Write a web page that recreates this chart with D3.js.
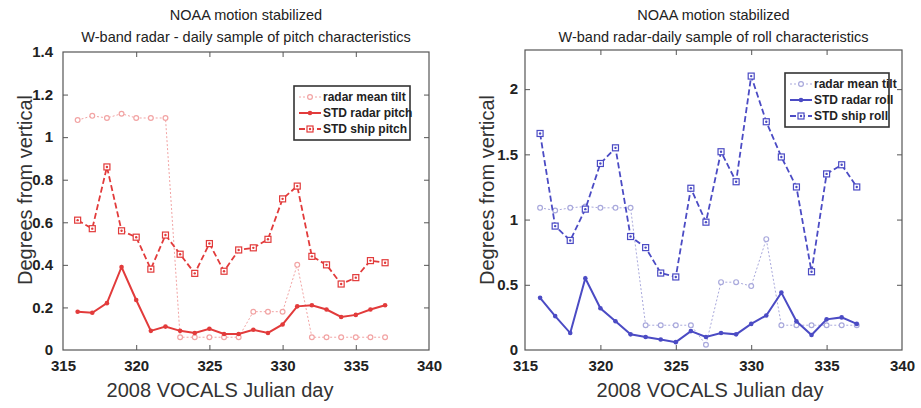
<!DOCTYPE html>
<html>
<head>
<meta charset="utf-8">
<script src="https://cdn.jsdelivr.net/npm/d3@7"></script>
<style>
  body { margin: 0; background: #fff; }
  svg { font-family: "Liberation Sans", Arial, sans-serif; }
</style>
</head>
<body>
<script>
// Julian days sampled
const days = [316, 317, 318, 319, 320, 321, 322, 323, 324, 325, 326,
              327, 328, 329, 330, 331, 332, 333, 334, 335, 336, 337];

// Pitch panel series
const pitchTilt  = [1.08, 1.10, 1.09, 1.11, 1.09, 1.09, 1.09, 0.06, 0.06, 0.06, 0.06,
                    0.06, 0.18, 0.18, 0.18, 0.40, 0.06, 0.06, 0.06, 0.06, 0.06, 0.06];
const pitchRadar = [0.18, 0.175, 0.22, 0.39, 0.235, 0.09, 0.11, 0.09, 0.08, 0.10, 0.075,
                    0.075, 0.095, 0.08, 0.12, 0.205, 0.21, 0.19, 0.155, 0.165, 0.19, 0.21];
const pitchShip  = [0.61, 0.57, 0.86, 0.56, 0.53, 0.38, 0.54, 0.45, 0.36, 0.50, 0.37,
                    0.47, 0.48, 0.52, 0.71, 0.77, 0.44, 0.40, 0.31, 0.34, 0.42, 0.41];

// Roll panel series
const rollTilt  = [1.09, 1.07, 1.09, 1.10, 1.09, 1.09, 1.09, 0.19, 0.19, 0.19, 0.19,
                   0.04, 0.52, 0.52, 0.49, 0.85, 0.19, 0.19, 0.19, 0.19, 0.19, 0.19];
const rollRadar = [0.40, 0.26, 0.13, 0.55, 0.32, 0.22, 0.12, 0.10, 0.08, 0.06, 0.145,
                   0.10, 0.13, 0.12, 0.20, 0.265, 0.44, 0.22, 0.115, 0.235, 0.25, 0.20];
const rollShip  = [1.66, 0.95, 0.84, 1.08, 1.43, 1.55, 0.87, 0.785, 0.59, 0.56, 1.24,
                   0.98, 1.52, 1.29, 2.10, 1.75, 1.48, 1.25, 0.60, 1.35, 1.42, 1.25];

// Tick values
const xTicks = [315, 320, 325, 330, 335, 340];
const pitchTicks = [0, 0.2, 0.4, 0.6, 0.8, 1, 1.2, 1.4];
const rollTicks = [0, 0.5, 1, 1.5, 2];

// Labels
const pitchTitle = ["NOAA motion stabilized", "W-band radar - daily sample of pitch characteristics"];
const rollTitle  = ["NOAA motion stabilized", "W-band radar-daily sample of roll characteristics"];
const pitchNames = ["radar mean tilt", "STD radar pitch", "STD ship pitch"];
const rollNames  = ["radar mean tilt", "STD radar roll", "STD ship roll"];
const xLabel = "2008 VOCALS Julian day";
const yLabel = "Degrees from vertical";

const W = 921, H = 408;
const svg = d3.select("body").append("svg").attr("width", W).attr("height", H);

function drawPanel(p) {
    const g = svg.append("g");
    const x = d3.scaleLinear().domain([315, 340]).range([p.left, p.right]);
    const y = d3.scaleLinear().domain([0, p.ymax]).range([p.bottom, p.top]);

    // frame
    g.append("rect")
        .attr("x", p.left).attr("y", p.top)
        .attr("width", p.right - p.left).attr("height", p.bottom - p.top)
        .attr("fill", "none").attr("stroke", "#555").attr("stroke-width", 1.2);

    // axes: ticks inside, on all four sides
    const styleAxis = (sel, labels) => {
        sel.select(".domain").remove();
        sel.selectAll(".tick line").attr("stroke", "#555");
        sel.selectAll(".tick text")
            .attr("fill", "#222")
            .style("font-size", "15px").style("font-weight", "bold");
        if (!labels) sel.selectAll(".tick text").remove();
    };
    g.append("g").attr("transform", `translate(0,${p.bottom})`)
        .call(d3.axisBottom(x).tickValues(xTicks).tickSizeInner(-5).tickSizeOuter(0).tickPadding(10).tickFormat(d3.format("d")))
        .call(s => styleAxis(s, true));
    g.append("g").attr("transform", `translate(0,${p.top})`)
        .call(d3.axisTop(x).tickValues(xTicks).tickSizeInner(-5).tickSizeOuter(0))
        .call(s => styleAxis(s, false));
    g.append("g").attr("transform", `translate(${p.left},0)`)
        .call(d3.axisLeft(y).tickValues(p.yTicks).tickSizeInner(-5).tickSizeOuter(0).tickPadding(p.ypad).tickFormat(d3.format("~g")))
        .call(s => styleAxis(s, true));
    g.append("g").attr("transform", `translate(${p.right},0)`)
        .call(d3.axisRight(y).tickValues(p.yTicks).tickSizeInner(-5).tickSizeOuter(0))
        .call(s => styleAxis(s, false));
    // hide tick marks at frame corners
    g.selectAll(".tick").filter(d => d === 315 || d === 340 || d === 0 || d === p.ymax)
        .select("line").remove();

    // titles
    p.title.forEach((t, i) => {
        g.append("text").attr("x", (p.left + p.right) / 2).attr("y", 20 + i * 22)
            .attr("text-anchor", "middle").style("font-size", "14.5px").attr("fill", "#222")
            .text(t);
    });
    g.append("text").attr("x", p.xlabX).attr("y", 397)
        .attr("text-anchor", "middle").style("font-size", "20px").attr("fill", "#333")
        .text(xLabel);
    g.append("text")
        .attr("transform", `translate(${p.ylabX},${p.ylabY}) rotate(-90)`)
        .attr("text-anchor", "middle").style("font-size", "20px").attr("fill", "#333")
        .text(yLabel);

    const line = d3.line().x((d, i) => x(days[i])).y(d => y(d));

    // series specs
    const specs = [
        { data: p.tilt,  color: p.light, width: 1,   dash: "2,2", marker: "circle" },
        { data: p.radar, color: p.main,  width: 2,   dash: null,  marker: "dot" },
        { data: p.ship,  color: p.main,  width: 1.8, dash: "6,3", marker: "square" }
    ];

    const drawMarker = (sel, type, cx, cy, color) => {
        if (type === "circle") {
            sel.append("circle").attr("cx", cx).attr("cy", cy).attr("r", 2.4)
                .attr("fill", "#fff").attr("stroke", color).attr("stroke-width", 1.2);
        } else if (type === "dot") {
            sel.append("circle").attr("cx", cx).attr("cy", cy).attr("r", 2.3)
                .attr("fill", color);
        } else {
            sel.append("rect").attr("x", cx - 3).attr("y", cy - 3).attr("width", 6).attr("height", 6)
                .attr("fill", "#fff").attr("stroke", color).attr("stroke-width", 1.2);
            sel.append("circle").attr("cx", cx).attr("cy", cy).attr("r", 1.2).attr("fill", color);
        }
    };

    specs.forEach(s => {
        g.append("path").datum(s.data)
            .attr("fill", "none").attr("stroke", s.color)
            .attr("stroke-width", s.width)
            .attr("stroke-dasharray", s.dash)
            .attr("d", line);
        const mg = g.append("g");
        s.data.forEach((v, i) => drawMarker(mg, s.marker, x(days[i]), y(v), s.color));
    });

    // legend
    const lg = g.append("g").attr("transform", `translate(${p.legX},${p.legY})`);
    lg.append("rect").attr("width", p.legW).attr("height", 54)
        .attr("fill", "#fff").attr("stroke", "#333").attr("stroke-width", 1.6);
    specs.forEach((s, i) => {
        const ly = 11 + i * 16;
        lg.append("line").attr("x1", 5).attr("x2", 27).attr("y1", ly).attr("y2", ly)
            .attr("stroke", s.color).attr("stroke-width", s.width)
            .attr("stroke-dasharray", s.dash);
        drawMarker(lg, s.marker, 16, ly, s.color);
        lg.append("text").attr("x", 29).attr("y", ly + 4)
            .style("font-size", "12px").style("font-weight", "bold").attr("fill", "#222")
            .text(p.names[i]);
    });
}

drawPanel({
    left: 63, right: 429, top: 52, bottom: 350, ymax: 1.4, yTicks: pitchTicks, ypad: 10,
    tilt: pitchTilt, radar: pitchRadar, ship: pitchShip, names: pitchNames,
    main: "#e23b3b", light: "#f2a4a4", title: pitchTitle,
    xlabX: 220, ylabX: 32, ylabY: 190,
    legX: 294, legY: 86, legW: 116
});

drawPanel({
    left: 525, right: 902, top: 50, bottom: 350, ymax: 2.3, yTicks: rollTicks, ypad: 7,
    tilt: rollTilt, radar: rollRadar, ship: rollShip, names: rollNames,
    main: "#4b4bc4", light: "#a9a9dc", title: rollTitle,
    xlabX: 710, ylabX: 494, ylabY: 190,
    legX: 785, legY: 73, legW: 104
});
</script>
</body>
</html>
